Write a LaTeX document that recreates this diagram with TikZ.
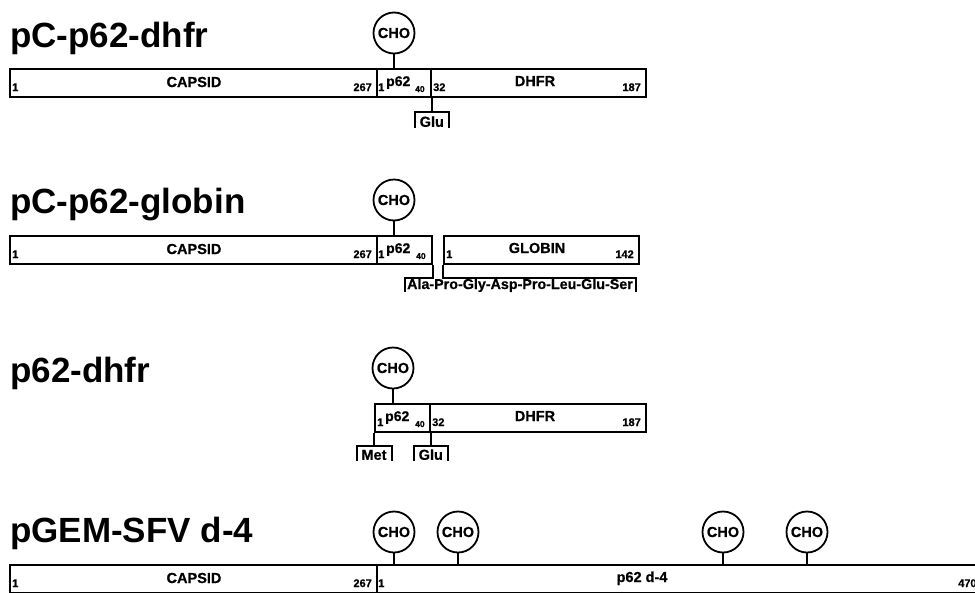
\documentclass[tikz,border=0pt]{standalone}
\usepackage{fontspec}
\setmainfont{Liberation Sans}
\newfontfamily\heavyfont[FakeBold=0.6]{Liberation Sans Bold}
\newcommand{\myfs}[1]{\fontsize{#1}{#1}\selectfont\bfseries}
\newcommand{\myhv}[1]{\fontsize{#1}{#1}\selectfont\heavyfont}
\begin{document}
\begin{tikzpicture}[x=1pt,y=-1pt,
  seg/.style={draw, line width=1.8pt, inner sep=0pt, minimum height=28pt, anchor=north west},
  cho/.style={circle, draw, line width=1.8pt, minimum size=41pt, inner sep=0pt, font=\myhv{14.5}},
  ttl/.style={font=\myfs{35}, anchor=base west, inner sep=0pt},
  lbl/.style={font=\myhv{14.5}, anchor=base, inner sep=0pt},
  pl/.style={font=\myhv{14}, anchor=base west, inner sep=0pt},
  num/.style={font=\myhv{11}, anchor=base west, inner sep=0pt},
  sml/.style={font=\myhv{8.5}, anchor=base west, inner sep=0pt},
  stem/.style={line width=1.8pt}]
\useasboundingbox (0,0) rectangle (975,592);
\clip (0,0) rectangle (975,592);

% ---------- Row 1: pC-p62-dhfr ----------
\node[ttl] (t1) at (10,47) {pC-p62-dhfr};
\node[seg, minimum width=367pt] (capA) at (9,68) {};
\node[seg, minimum width=54pt] (p62A) at (376,68) {};
\node[seg, minimum width=215pt] (dhfrA) at (430,68) {};
\node[num] (a1) at (12,91) {1};
\node[lbl] (a2) at (194,87) {CAPSID};
\node[num, anchor=base east] (a3) at (372,91) {267};
\node[num] (a4) at (378,91) {1};
\node[pl] (a5) at (386,86) {p62};
\node[sml] (a6) at (415,92) {40};
\node[num] (a7) at (433,91) {32};
\node[lbl] (a8) at (535,86) {DHFR};
\node[num, anchor=base east] (a9) at (641,91) {187};
\node[cho] (c1) at (394,33) {CHO};
\draw[stem] (c1.south) -- (c1.south |- capA.north);
\draw[stem] (p62A.south east) -- ++(0,14) coordinate (j1);
\draw[stem] (j1) ++(-17,16) |- ++(34,-16) -- ++(0,16);
\node[lbl] (glu1) at ([yshift=-15pt]j1) {Glu};

% ---------- Row 2: pC-p62-globin ----------
\node[ttl] (t2) at (10,213) {pC-p62-globin};
\node[seg, minimum width=367pt] (capB) at (9,235) {};
\node[seg, minimum width=55pt] (p62B) at (376,235) {};
\node[seg, minimum width=195pt] (globB) at (443,235) {};
\node[num] (b1) at (12,258) {1};
\node[lbl] (b2) at (194,254) {CAPSID};
\node[num, anchor=base east] (b3) at (372,258) {267};
\node[num] (b4) at (378,258) {1};
\node[pl] (b5) at (386,253) {p62};
\node[sml] (b6) at (416,259) {40};
\node[num] (b7) at (446,258) {1};
\node[lbl] (b8) at (537,253) {GLOBIN};
\node[num, anchor=base east] (b9) at (634,258) {142};
\node[cho] (c2) at (394,200) {CHO};
\draw[stem] (c2.south) -- (c2.south |- capB.north);
\draw[stem] (p62B.south east) -- ++(0,13) -| ++(-28,14);
\draw[stem] (globB.south west) -- ++(0,13) -| ++(193,14);
\node[lbl, font=\myhv{14.3}] (seq) at (520,289) {Ala-Pro-Gly-Asp-Pro-Leu-Glu-Ser};

% ---------- Row 3: p62-dhfr ----------
\node[ttl] (t3) at (10,382) {p62-dhfr};
\node[seg, minimum width=55pt] (p62C) at (374,403) {};
\node[seg, minimum width=216pt] (dhfrC) at (429,403) {};
\node[num] (d1) at (377,426) {1};
\node[pl] (d2) at (385,421) {p62};
\node[sml] (d3) at (415,427) {40};
\node[num] (d4) at (432,426) {32};
\node[lbl] (d5) at (535,421) {DHFR};
\node[num, anchor=base east] (d6) at (641,426) {187};
\node[cho] (c3) at (393,368) {CHO};
\draw[stem] (c3.south) -- (c3.south |- p62C.north);
\draw[stem] (p62C.south west) -- ++(0,13) coordinate (j3);
\draw[stem] (j3) ++(-17,15) |- ++(35,-15) -- ++(0,15);
\node[lbl] (met) at ([yshift=-14pt]j3) {Met};
\draw[stem] (p62C.south east) -- ++(0,13) coordinate (j4);
\draw[stem] (j4) ++(-17,15) |- ++(34,-15) -- ++(0,15);
\node[lbl] (glu3) at ([yshift=-14pt]j4) {Glu};

% ---------- Row 4: pGEM-SFV d-4 ----------
\node[ttl] (t4) at (10,542) {pGEM-SFV d-4};
\node[seg, minimum width=367pt] (capD) at (9,564) {};
\node[seg, minimum width=650pt] (p62D) at (376,564) {};
\node[num] (e1) at (12,587) {1};
\node[lbl] (e2) at (194,583) {CAPSID};
\node[num, anchor=base east] (e3) at (372,587) {267};
\node[num] (e4) at (378,587) {1};
\node[lbl] (e5) at (642,582) {p62 d-4};
\node[num] (e6) at (958,587) {470};
\node[cho] (c4) at (394,532) {CHO};
\node[cho] (c5) at (458,532) {CHO};
\node[cho] (c6) at (723,532) {CHO};
\node[cho] (c7) at (807,532) {CHO};
\foreach \c in {c4,c5,c6,c7}
  \draw[stem] (\c.south) -- (\c.south |- p62D.north);
\end{tikzpicture}
\end{document}
